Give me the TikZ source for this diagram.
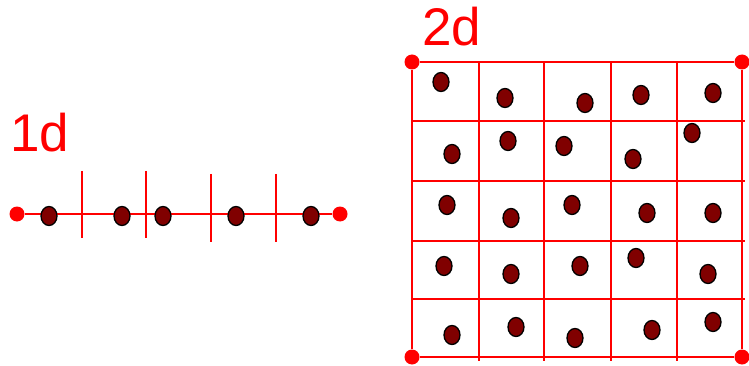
\documentclass[tikz,border=0pt]{standalone}
\usepackage{fontspec}
\setmainfont{Liberation Sans}
\usetikzlibrary{shapes.geometric}
\definecolor{wallred}{RGB}{255,0,0}
\definecolor{beadred}{RGB}{128,0,0}
\begin{document}
\begin{tikzpicture}[x=1pt,y=-1pt,
    wall/.style={wallred, line width=2pt},
    endpt/.style={circle, fill=wallred, inner sep=0pt, minimum size=15pt},
    bead/.style={ellipse, draw=black, line width=1.3pt, fill=beadred, inner sep=0pt, minimum width=16pt, minimum height=19pt},
    dimlabel/.style={wallred, font=\fontsize{53}{60}\selectfont, anchor=base west, inner sep=0pt}]
    \useasboundingbox (0,0) rectangle (749,366);
    % 1d chain
    \node[dimlabel] (lab1) at (10,152) {1d};
    \node[endpt] (a) at (17,214) {};
    \node[endpt] (b) at (340,214) {};
    \draw[wall] (a) -- (b);
    \foreach \x/\t/\b in {82/171/238, 146/171/238, 211/174/242, 276/174/242} {\draw[wall] (\x,\t) -- (\x,\b);}
    \foreach \x [count=\i] in {49,122,163,236,311} {\node[bead] (p\i) at (\x,216) {};}
    % 2d box
    \node[dimlabel] (lab2) at (422,46) {2d};
    \node[endpt] (c1) at (412,62) {};
    \node[endpt] (c2) at (742,62) {};
    \node[endpt] (c3) at (742,357) {};
    \node[endpt] (c4) at (412,357) {};
    \draw[wall] (c1) -- (c2) -- (c3) -- (c4) -- (c1);
    \foreach \x in {479,544,611,677} {\draw[wall] (\x,62) -- (\x,361);}
    \foreach \y in {121,181,241,299} {\draw[wall] (412,\y) -- (745,\y);}
    \foreach \x/\y [count=\i] in {441/82, 505/98, 585/103, 641/95, 713/93,
      452/154, 508/141, 564/146, 633/159, 692/133,
      447/205, 511/218, 572/205, 647/213, 713/213,
      444/266, 511/274, 580/266, 636/258, 708/274,
      452/335, 516/327, 575/338, 652/330, 713/322} {\node[bead] (q\i) at (\x,\y) {};}
\end{tikzpicture}
\end{document}
